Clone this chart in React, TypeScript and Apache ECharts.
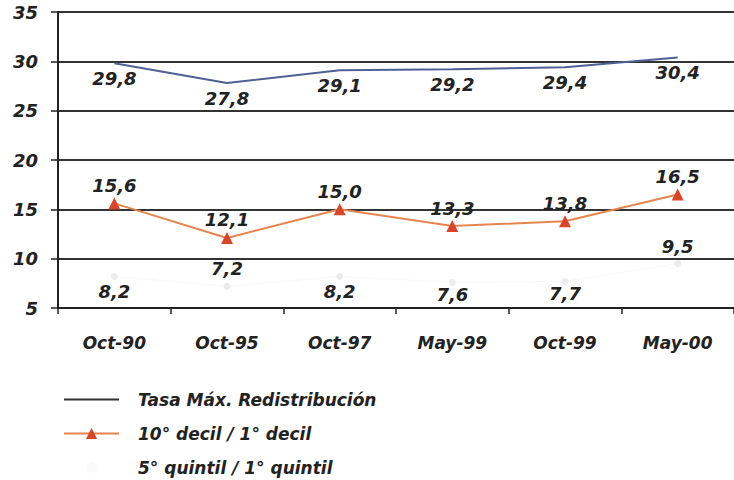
import React, { useEffect, useRef } from "react";
import * as echarts from "echarts";

const categories = ["Oct-90", "Oct-95", "Oct-97", "May-99", "Oct-99", "May-00"];
const tasaMax = [29.8, 27.8, 29.1, 29.2, 29.4, 30.4];
const decil = [15.6, 12.1, 15.0, 13.3, 13.8, 16.5];
const quintil = [8.2, 7.2, 8.2, 7.6, 7.7, 9.5];
const quintilLabelPos = ["bottom", "top", "bottom", "bottom", "bottom", "top"];
const seriesNames = ["Tasa Máx. Redistribución", "10° decil / 1° decil", "5° quintil / 1° quintil"];

const FONT = "'DejaVu Sans', sans-serif";
const fmt = (p: any) => Number(p.value).toFixed(1).replace(".", ",");
const labelBase = {
  show: true,
  fontFamily: FONT,
  fontStyle: "italic" as const,
  fontWeight: "bold" as const,
  fontSize: 18,
  color: "#222",
  opacity: 1,
  formatter: fmt,
};

export default function App() {
  const ref = useRef<HTMLDivElement>(null);
  useEffect(() => {
    const chart = echarts.init(ref.current!, null, { renderer: "svg" });
    chart.setOption({
      animation: false,
      backgroundColor: "#fff",
      grid: { left: 58, top: 12, width: 678, height: 296, containLabel: false },
      legend: {
        orient: "vertical",
        left: 63,
        top: 389,
        height: 91,
        padding: 0,
        itemWidth: 55,
        itemHeight: 14,
        itemGap: 13,
        textStyle: {
          fontFamily: FONT,
          fontStyle: "italic",
          fontWeight: "bold",
          fontSize: 17,
          lineHeight: 21,
          color: "#222",
          padding: [0, 0, 0, 14],
        },
        data: [
          { name: seriesNames[0], itemStyle: { opacity: 0 }, lineStyle: { color: "#333", width: 2 } },
          { name: seriesNames[1] },
          { name: seriesNames[2], itemStyle: { opacity: 0.3 }, lineStyle: { opacity: 0 } },
        ],
      },
      xAxis: {
        type: "category",
        data: categories,
        boundaryGap: true,
        axisLine: { lineStyle: { color: "#222", width: 2 } },
        axisTick: { show: true, inside: false, length: 6, interval: 0, lineStyle: { color: "#222", width: 1.5 } },
        axisLabel: {
          margin: 26,
          fontFamily: FONT,
          fontStyle: "italic",
          fontWeight: "bold",
          fontSize: 17,
          color: "#222",
        },
      },
      yAxis: {
        type: "value",
        min: 5,
        max: 35,
        interval: 5,
        axisLine: { show: true, lineStyle: { color: "#222", width: 2 } },
        axisTick: { show: true, inside: false, length: 7, lineStyle: { color: "#222", width: 1.5 } },
        axisLabel: {
          margin: 20,
          fontFamily: FONT,
          fontStyle: "italic",
          fontWeight: "bold",
          fontSize: 18,
          color: "#222",
        },
        splitLine: { show: true, lineStyle: { color: "#333", width: 2 } },
      },
      series: [
        {
          name: seriesNames[0],
          type: "line",
          data: tasaMax,
          symbol: "circle",
          symbolSize: 1,
          itemStyle: { color: "rgba(77,97,150,0)" },
          lineStyle: { color: "#4d6196", width: 2 },
          label: { ...labelBase, position: "bottom", distance: 6 },
        },
        {
          name: seriesNames[1],
          type: "line",
          data: decil,
          symbol: "triangle",
          symbolSize: 12,
          itemStyle: { color: "#d9452b" },
          lineStyle: { color: "#e6854e", width: 2 },
          label: { ...labelBase, position: "top", distance: 3 },
        },
        {
          name: seriesNames[2],
          type: "line",
          data: quintil.map((v, i) => ({
            value: v,
            label: {
              position: quintilLabelPos[i],
              distance: quintilLabelPos[i] === "top" ? 5 : i === 0 || i === 2 ? 3 : 0,
            },
          })),
          symbol: "circle",
          symbolSize: 7,
          itemStyle: { color: "#ececec" },
          lineStyle: { color: "#f7f7f7", width: 1 },
          label: { ...labelBase },
        },
      ],
    });
    return () => chart.dispose();
  }, []);
  return (
    <div
      ref={ref}
      style={{ position: "fixed", left: 0, top: 0, width: 734, height: 480 }}
    />
  );
}
